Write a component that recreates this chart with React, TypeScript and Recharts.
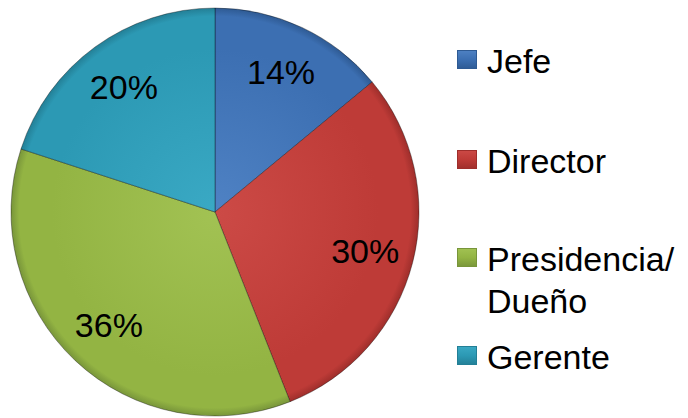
import React from 'react';
import { PieChart, Pie, Cell, Legend } from 'recharts';

const categories = ['Jefe', 'Director', 'Presidencia/\nDueño', 'Gerente'];
const values = [14, 30, 36, 20];
const baseColors = ['#3C6FB2', '#BE3B37', '#93B443', '#2C99B4'];
const lightColors = ['#4F82C4', '#CC4A46', '#A2C253', '#3AA9C4'];
const darkColors = ['#2E5A93', '#9E2E2B', '#78953A', '#237F96'];

const data = categories.map((name, i) => ({ name, value: values[i] }));

const FONT = '"Liberation Sans", Arial, sans-serif';
const RAD = Math.PI / 180;

const renderLabel = (props: any) => {
  const { cx, cy, midAngle, outerRadius, percent } = props;
  const r = outerRadius * 0.76;
  const x = cx + r * Math.cos(-midAngle * RAD);
  const y = cy + r * Math.sin(-midAngle * RAD);
  return (
    <text
      x={x}
      y={y}
      fill="#000"
      textAnchor="middle"
      dominantBaseline="central"
      style={{ fontFamily: FONT, fontSize: 34 }}
    >
      {`${Math.round(percent * 100)}%`}
    </text>
  );
};

const legendTops = [40, 140, 238, 336];

const LegendContent = () => (
  <div style={{ position: 'relative', width: 240, height: 418 }}>
    {data.map((d, i) => (
      <div key={d.name} style={{ position: 'absolute', left: 0, top: legendTops[i], display: 'flex', alignItems: 'flex-start' }}>
        <div
          style={{
            width: 20,
            height: 19,
            marginTop: 10,
            marginRight: 10,
            background: `linear-gradient(180deg, ${lightColors[i]} 0%, ${baseColors[i]} 50%, ${darkColors[i]} 100%)`,
            boxShadow: `inset 0 0 0 1px ${darkColors[i]}`,
          }}
        />
        <div style={{ fontFamily: FONT, fontSize: 34, lineHeight: '42px', color: '#000', whiteSpace: 'pre' }}>
          {d.name}
        </div>
      </div>
    ))}
  </div>
);

export default function App() {
  return (
    <div style={{ position: 'absolute', left: 0, top: 0, width: 688, height: 418, background: '#fff' }}>
      <PieChart width={688} height={418} margin={{ top: 0, right: 0, bottom: 0, left: 0 }}>
        <defs>
          {baseColors.map((c, i) => (
            <radialGradient key={i} id={`g${i}`} cx={215} cy={212} r={204} gradientUnits="userSpaceOnUse">
              <stop offset="0%" stopColor={lightColors[i]} />
              <stop offset="80%" stopColor={c} />
              <stop offset="96%" stopColor={c} />
              <stop offset="100%" stopColor={darkColors[i]} />
            </radialGradient>
          ))}
        </defs>
        <Pie
          data={data}
          dataKey="value"
          nameKey="name"
          cx={215}
          cy={212}
          outerRadius={204}
          startAngle={90}
          endAngle={-270}
          label={renderLabel}
          labelLine={false}
          isAnimationActive={false}
          stroke="rgba(0,0,0,0.35)"
          strokeWidth={1}
        >
          {data.map((d, i) => (
            <Cell key={d.name} fill={`url(#g${i})`} />
          ))}
        </Pie>
        <Legend
          layout="vertical"
          align="right"
          verticalAlign="top"
          content={<LegendContent />}
          wrapperStyle={{ position: 'absolute', left: 457, top: 0, width: 231, height: 418 }}
        />
      </PieChart>
    </div>
  );
}
